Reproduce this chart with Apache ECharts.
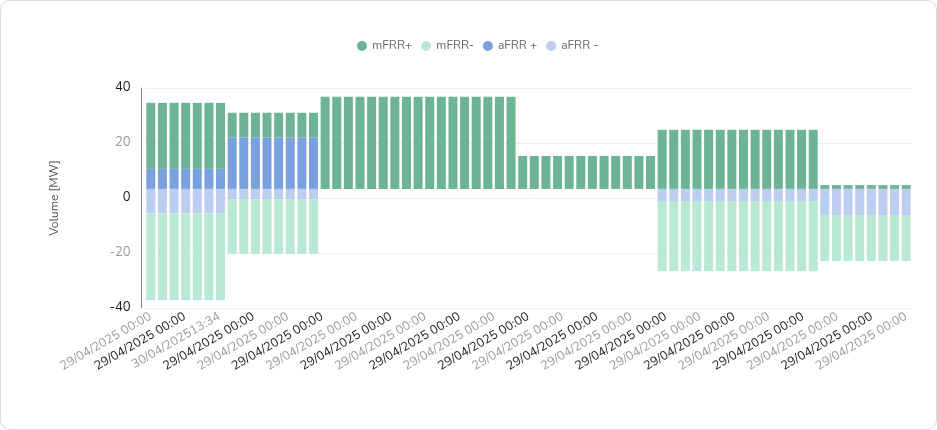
<!doctype html>
<html lang="en">
<head>
  <meta charset="utf-8">
  <title>Volume</title>
  <script src="https://cdn.jsdelivr.net/npm/echarts@6/dist/echarts.min.js"></script>
  <style>
    html, body { margin: 0; padding: 0; background: #fff; }
    .card {
      position: absolute; left: 0; top: 0; width: 937px; height: 430px;
      box-sizing: border-box; border: 1px solid #dcdcdc; border-radius: 10px; overflow: hidden;
    }
    #chart { width: 100%; height: 100%; }
  </style>
</head>
<body>
  <div class="card"><div id="chart"></div></div>
  <script type="text/javascript">
    // one value per hourly slot
    const base = [
      3.3, 3.3, 3.3, 3.3, 3.3, 3.3, 3.3,
      3.3, 3.3, 3.3, 3.3, 3.3, 3.3, 3.3, 3.3,
      3.3, 3.3, 3.3, 3.3, 3.3, 3.3, 3.3, 3.3, 3.3, 3.3, 3.3, 3.3, 3.3, 3.3, 3.3, 3.3, 3.3,
      3.3, 3.3, 3.3, 3.3, 3.3, 3.3, 3.3, 3.3, 3.3, 3.3, 3.3, 3.3,
      3.3, 3.3, 3.3, 3.3, 3.3, 3.3, 3.3, 3.3, 3.3, 3.3, 3.3, 3.3, 3.3, 3.3,
      3.3, 3.3, 3.3, 3.3, 3.3, 3.3, 3.3, 3.3
    ];
    const mFRRup = [
      24, 24, 24, 24, 24, 24, 24,
      9, 9, 9, 9, 9, 9, 9, 9,
      33.5, 33.5, 33.5, 33.5, 33.5, 33.5, 33.5, 33.5, 33.5, 33.5, 33.5, 33.5, 33.5, 33.5, 33.5, 33.5, 33.5,
      12, 12, 12, 12, 12, 12, 12, 12, 12, 12, 12, 12,
      21.5, 21.5, 21.5, 21.5, 21.5, 21.5, 21.5, 21.5, 21.5, 21.5, 21.5, 21.5, 21.5, 21.5,
      1.4, 1.4, 1.4, 1.4, 1.4, 1.4, 1.4, 1.4
    ];
    const mFRRdown = [
      -31.7, -31.7, -31.7, -31.7, -31.7, -31.7, -31.7,
      -19.9, -19.9, -19.9, -19.9, -19.9, -19.9, -19.9, -19.9,
      0, 0, 0, 0, 0, 0, 0, 0, 0, 0, 0, 0, 0, 0, 0, 0, 0,
      0, 0, 0, 0, 0, 0, 0, 0, 0, 0, 0, 0,
      -25.5, -25.5, -25.5, -25.5, -25.5, -25.5, -25.5, -25.5, -25.5, -25.5, -25.5, -25.5, -25.5, -25.5,
      -16.7, -16.7, -16.7, -16.7, -16.7, -16.7, -16.7, -16.7
    ];
    const aFRRup = [
      7.3, 7.3, 7.3, 7.3, 7.3, 7.3, 7.3,
      18.7, 18.7, 18.7, 18.7, 18.7, 18.7, 18.7, 18.7,
      0, 0, 0, 0, 0, 0, 0, 0, 0, 0, 0, 0, 0, 0, 0, 0, 0,
      0, 0, 0, 0, 0, 0, 0, 0, 0, 0, 0, 0,
      0, 0, 0, 0, 0, 0, 0, 0, 0, 0, 0, 0, 0, 0,
      0, 0, 0, 0, 0, 0, 0, 0
    ];
    const aFRRdown = [
      -8.8, -8.8, -8.8, -8.8, -8.8, -8.8, -8.8,
      -3.7, -3.7, -3.7, -3.7, -3.7, -3.7, -3.7, -3.7,
      0, 0, 0, 0, 0, 0, 0, 0, 0, 0, 0, 0, 0, 0, 0, 0, 0,
      0, 0, 0, 0, 0, 0, 0, 0, 0, 0, 0, 0,
      -4.4, -4.4, -4.4, -4.4, -4.4, -4.4, -4.4, -4.4, -4.4, -4.4, -4.4, -4.4, -4.4, -4.4,
      -9.5, -9.5, -9.5, -9.5, -9.5, -9.5, -9.5, -9.5
    ];
    // text under the axis (every third entry is shown)
    const tickLabels = [
      '29/04/2025 00:00', '29/04/2025 00:00', '29/04/2025 00:00', '29/04/2025 00:00', '29/04/2025 00:00', '29/04/2025 00:00',
      '30/04/202513:34', '30/04/202513:34', '30/04/202513:34', '29/04/2025 00:00', '29/04/2025 00:00', '29/04/2025 00:00',
      '29/04/2025 00:00', '29/04/2025 00:00', '29/04/2025 00:00', '29/04/2025 00:00', '29/04/2025 00:00', '29/04/2025 00:00',
      '29/04/2025 00:00', '29/04/2025 00:00', '29/04/2025 00:00', '29/04/2025 00:00', '29/04/2025 00:00', '29/04/2025 00:00',
      '29/04/2025 00:00', '29/04/2025 00:00', '29/04/2025 00:00', '29/04/2025 00:00', '29/04/2025 00:00', '29/04/2025 00:00',
      '29/04/2025 00:00', '29/04/2025 00:00', '29/04/2025 00:00', '29/04/2025 00:00', '29/04/2025 00:00', '29/04/2025 00:00',
      '29/04/2025 00:00', '29/04/2025 00:00', '29/04/2025 00:00', '29/04/2025 00:00', '29/04/2025 00:00', '29/04/2025 00:00',
      '29/04/2025 00:00', '29/04/2025 00:00', '29/04/2025 00:00', '29/04/2025 00:00', '29/04/2025 00:00', '29/04/2025 00:00',
      '29/04/2025 00:00', '29/04/2025 00:00', '29/04/2025 00:00', '29/04/2025 00:00', '29/04/2025 00:00', '29/04/2025 00:00',
      '29/04/2025 00:00', '29/04/2025 00:00', '29/04/2025 00:00', '29/04/2025 00:00', '29/04/2025 00:00', '29/04/2025 00:00',
      '29/04/2025 00:00', '29/04/2025 00:00', '29/04/2025 00:00', '29/04/2025 00:00', '29/04/2025 00:00', '29/04/2025 00:00',
      '29/04/2025 00:00'
    ];
    const slots = base.map((v, i) => String(i));

    const font = 'Nunito, "Noto Sans", sans-serif';
    const bar = (name, stack, data, color, extra) => Object.assign({
      name: name,
      type: 'bar',
      stack: stack,
      data: data,
      barWidth: 9,
      barGap: '-100%',
      itemStyle: { color: color },
      emphasis: { disabled: true }
    }, extra || {});

    let chart = echarts.init(document.getElementById('chart'));
    let option = {
      animation: false,
      textStyle: { fontFamily: font },
      legend: {
        data: ['mFRR+', 'mFRR-', 'aFRR +', 'aFRR -'],
        top: 34,
        left: 351,
        icon: 'circle',
        itemWidth: 10,
        itemHeight: 10,
        itemGap: 9,
        textStyle: { color: '#666', fontSize: 12, fontFamily: font }
      },
      grid: { left: 144, right: 24, top: 87, bottom: 121 },
      xAxis: [{
        type: 'category',
        data: slots,
        axisLine: { show: false },
        axisTick: { show: false },
        axisLabel: { show: false }
      }, {
        type: 'category',
        position: 'bottom',
        data: tickLabels,
        axisLine: { show: false, onZero: false },
        axisTick: { show: false },
        splitLine: { show: false },
        axisLabel: {
          interval: 2,
          rotate: 30,
          margin: 8,
          fontSize: 12.5,
          fontFamily: font,
          // every other shown label is grey
          color: (value, index) => index % 2 === 0 ? '#9a9a9a' : '#1a1a1a'
        }
      }],
      yAxis: {
        type: 'value',
        min: -40,
        max: 40,
        interval: 20,
        offset: 3.5,
        name: 'Volume [MW]',
        nameLocation: 'middle',
        nameGap: 80,
        nameTextStyle: { color: '#555', fontSize: 12, fontFamily: font },
        axisLine: { show: true, lineStyle: { color: '#888' } },
        axisTick: { show: false },
        splitLine: { lineStyle: { color: '#efefef' } },
        axisLabel: {
          fontSize: 13,
          fontFamily: font,
          margin: 11,
          color: (value, index) => index % 2 === 0 ? '#1a1a1a' : '#9a9a9a'
        }
      },
      series: [
        bar('baseUp', 'up', base, 'rgba(0,0,0,0)', { silent: true }),
        bar('aFRR +', 'up', aFRRup, '#7aa0e0'),
        bar('mFRR+', 'up', mFRRup, '#6db395'),
        bar('baseDown', 'down', base, 'rgba(0,0,0,0)', { silent: true, stackStrategy: 'all' }),
        bar('aFRR -', 'down', aFRRdown, '#bccdf1', { stackStrategy: 'all' }),
        bar('mFRR-', 'down', mFRRdown, '#b9e8d4', { stackStrategy: 'all' })
      ]
    };
    chart.setOption(option);
  </script>
</body>
</html>
